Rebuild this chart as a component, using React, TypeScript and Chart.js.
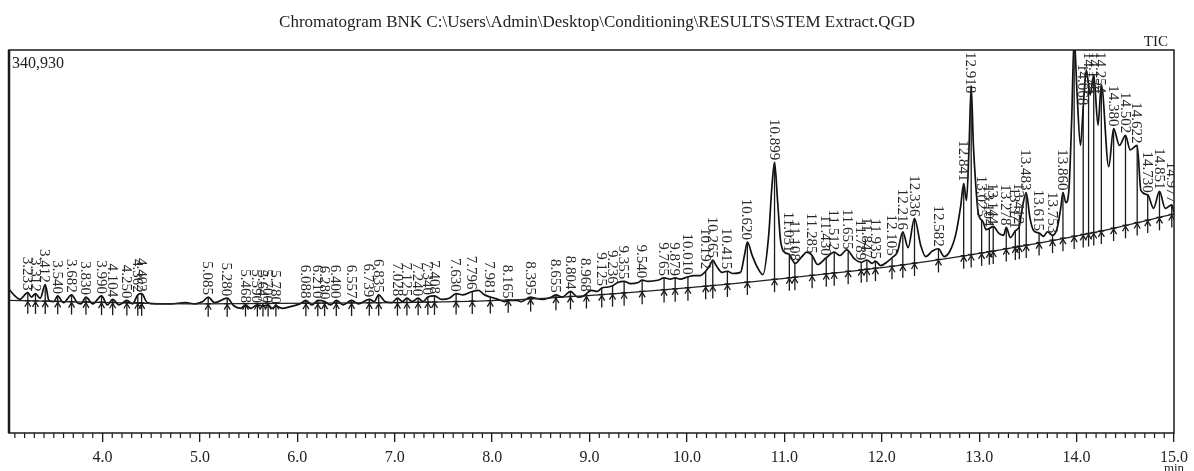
import React, { useEffect, useRef } from 'react';
import { Chart, registerables } from 'chart.js';

Chart.register(...registerables);

const TITLE = 'Chromatogram BNK C:\\Users\\Admin\\Desktop\\Conditioning\\RESULTS\\STEM Extract.QGD';
const TRACE_NAME = 'TIC';
const X_UNIT = 'min';
const Y_MAX = 340930;
const X_MIN = 3.04;
const X_MAX = 15.0;

const majorTicks = [4, 5, 6, 7, 8, 9, 10, 11, 12, 13, 14, 15];

// TIC trace (minutes, thousands of counts)
const traceTimes = [
  3.04, 3.10, 3.15, 3.233, 3.27, 3.312, 3.36, 3.412, 3.45, 3.50, 3.540, 3.60, 3.682, 3.74, 3.78, 3.830, 3.90, 3.990,
  4.05, 4.104, 4.17, 4.250, 4.31, 4.362, 4.402, 4.46, 4.55, 4.70, 4.85, 4.95, 5.03, 5.085, 5.15, 5.280, 5.35, 5.42,
  5.468, 5.52, 5.590, 5.647, 5.700, 5.74, 5.780, 5.85, 5.95, 6.03, 6.088, 6.15, 6.210, 6.280, 6.34, 6.400, 6.47,
  6.557, 6.63, 6.739, 6.79, 6.835, 6.90, 6.97, 7.028, 7.08, 7.125, 7.18, 7.240, 7.29, 7.340, 7.408, 7.48, 7.56,
  7.630, 7.70, 7.796, 7.86, 7.92, 7.981, 8.06, 8.13, 8.165, 8.25, 8.30, 8.395, 8.44, 8.52, 8.61, 8.655, 8.72, 8.804,
  8.88, 8.94, 8.968, 9.02, 9.08, 9.125, 9.19, 9.236, 9.29, 9.355, 9.42, 9.50, 9.540, 9.60, 9.70, 9.765, 9.83, 9.879,
  9.93, 10.010, 10.07, 10.13, 10.192, 10.24, 10.265, 10.30, 10.36, 10.415, 10.47, 10.55, 10.59, 10.620, 10.67, 10.72,
  10.78, 10.84, 10.87, 10.899, 10.93, 10.96, 11.00, 11.051, 11.11, 11.18, 11.23, 11.285, 11.34, 11.43, 11.512, 11.57,
  11.64, 11.72, 11.789, 11.847, 11.90, 11.935, 11.99, 12.05, 12.105, 12.16, 12.216, 12.27, 12.336, 12.40, 12.45, 12.52,
  12.582, 12.64, 12.70, 12.76, 12.81, 12.841, 12.87, 12.895, 12.918, 12.94, 12.96, 12.99, 13.04, 13.07, 13.104, 13.144,
  13.20, 13.25, 13.278, 13.32, 13.371, 13.412, 13.44, 13.483, 13.52, 13.56, 13.615, 13.66, 13.70, 13.753, 13.80, 13.84,
  13.860, 13.89, 13.92, 13.95, 13.975, 14.005, 14.04, 14.068, 14.10, 14.123, 14.14, 14.176, 14.22, 14.254, 14.33,
  14.380, 14.44, 14.502, 14.55, 14.622, 14.66, 14.730, 14.79, 14.851, 14.91, 14.977, 15.00,
];
const traceValuesK = [
  128, 122, 119, 125, 121, 124, 120, 132, 118, 117, 122, 116, 123, 116, 115, 121, 115, 122,
  114, 119, 114, 118, 115, 123, 124, 116, 115, 115, 116, 115, 117, 121, 116, 120, 113, 111,
  114, 111, 114, 113, 114, 111, 113, 111, 113, 115, 118, 114, 118, 117, 114, 118, 114,
  118, 115, 119, 117, 123, 117, 116, 120, 117, 120, 117, 120, 117, 121, 122, 119, 120,
  124, 123, 126, 127, 123, 121, 119, 117, 118, 118, 117, 121, 120, 119, 121, 123, 121, 126,
  121, 122, 124, 127, 126, 129, 130, 131, 134, 135, 133, 134, 136, 135, 136, 138, 137, 138,
  137, 139, 140, 140, 144, 150, 154, 149, 143, 144, 142, 143, 158, 170, 158, 148,
  141, 177, 217, 241, 207, 172, 161, 159, 151, 157, 161, 158, 150, 156, 161, 158,
  163, 155, 152, 154, 151, 153, 149, 152, 156, 161, 179, 165, 191, 167, 157, 162,
  164, 157, 162, 177, 202, 222, 207, 252, 309, 257, 227, 196, 188, 181, 182, 184,
  178, 176, 183, 174, 180, 184, 199, 214, 192, 180, 178, 175, 179, 176, 182, 202,
  214, 205, 215, 280, 352, 302, 256, 290, 323, 310, 301, 319, 274, 310, 237,
  271, 256, 265, 252, 256, 216, 212, 200, 215, 200, 203, 196,
];

const baselineTimes = [3.04, 4.99, 7.04, 8.06, 9.09, 10.11, 11.14, 12.16, 13.08, 14.21, 15.0];
const baselineValuesK = [118, 115, 116, 118, 123, 130, 139, 149, 161, 179, 195];

const peakTimes = [
  3.233, 3.312, 3.412, 3.540, 3.682, 3.830, 3.990, 4.104, 4.250, 4.362, 4.402,
  5.085, 5.280, 5.468, 5.590, 5.647, 5.700, 5.780,
  6.088, 6.210, 6.280, 6.400, 6.557, 6.739, 6.835, 7.028, 7.125, 7.240, 7.340, 7.408,
  7.630, 7.796, 7.981, 8.165, 8.395, 8.655, 8.804, 8.968, 9.125, 9.236, 9.355, 9.540,
  9.765, 9.879, 10.010, 10.192, 10.265, 10.415, 10.620, 10.899,
  11.051, 11.108, 11.285, 11.430, 11.512, 11.655, 11.789, 11.847, 11.935, 12.105, 12.216, 12.336, 12.582,
  12.841, 12.918, 13.025, 13.104, 13.144, 13.278, 13.371, 13.412, 13.483, 13.615, 13.753, 13.860,
  14.068, 14.123, 14.176, 14.254, 14.380, 14.502, 14.622, 14.730, 14.851, 14.977,
];
const unlabeledPeakTimes = [13.975];

const SERIF = '"Liberation Serif", "DejaVu Serif", serif';

function interp(xs: number[], ys: number[], t: number): number {
  if (t <= xs[0]) return ys[0];
  for (let i = 1; i < xs.length; i++) {
    if (t <= xs[i]) {
      const f = (t - xs[i - 1]) / (xs[i] - xs[i - 1]);
      return ys[i - 1] + f * (ys[i] - ys[i - 1]);
    }
  }
  return ys[ys.length - 1];
}

const chromPlugin = {
  id: 'chromDecor',
  afterDatasetsDraw(chart: any) {
    const { ctx, chartArea, scales } = chart;
    const xs = scales.x;
    const ys = scales.y;
    ctx.save();
    ctx.beginPath();
    ctx.rect(chartArea.left, chartArea.top, chartArea.right - chartArea.left, chartArea.bottom - chartArea.top);
    ctx.clip();
    const allPeaks = peakTimes.map((t) => ({ t, label: t.toFixed(3) }))
      .concat(unlabeledPeakTimes.map((t) => ({ t, label: '' })));
    ctx.strokeStyle = '#1a1a1a';
    ctx.lineWidth = 1.3;
    for (const p of allPeaks) {
      const px = xs.getPixelForValue(p.t);
      const v = Math.min(interp(traceTimes, traceValuesK, p.t) * 1000, Y_MAX);
      const yTop = ys.getPixelForValue(v);
      const yBase = ys.getPixelForValue(interp(baselineTimes, baselineValuesK, p.t) * 1000);
      ctx.beginPath();
      ctx.moveTo(px, yTop);
      ctx.lineTo(px, yBase + 13);
      ctx.stroke();
      ctx.beginPath();
      ctx.moveTo(px - 3, yBase + 6);
      ctx.lineTo(px, yBase + 1);
      ctx.lineTo(px + 3, yBase + 6);
      ctx.stroke();
      ctx.beginPath();
      ctx.moveTo(px - 3, yBase);
      ctx.lineTo(px + 3, yBase);
      ctx.stroke();
    }
    ctx.font = `15px ${SERIF}`;
    ctx.fillStyle = '#2a2a2a';
    for (const p of allPeaks) {
      if (!p.label) continue;
      const px = xs.getPixelForValue(p.t);
      const v = Math.min(interp(traceTimes, traceValuesK, p.t) * 1000, Y_MAX);
      const yTop = ys.getPixelForValue(v);
      const w = ctx.measureText(p.label).width;
      let bottom = yTop - 2;
      if (bottom - w < chartArea.top + 2) bottom = chartArea.top + 2 + w;
      ctx.save();
      ctx.translate(px - 1, bottom);
      ctx.rotate(Math.PI / 2);
      ctx.textAlign = 'right';
      ctx.textBaseline = 'middle';
      ctx.fillText(p.label, 0, 0);
      ctx.restore();
    }
    ctx.restore();
  },
  afterDraw(chart: any) {
    const { ctx, chartArea, scales, width } = chart;
    const xs = scales.x;
    ctx.save();
    ctx.strokeStyle = '#1a1a1a';
    ctx.lineWidth = 1.5;
    ctx.strokeRect(chartArea.left, chartArea.top, chartArea.right - chartArea.left, chartArea.bottom - chartArea.top);
    ctx.lineWidth = 2.5;
    ctx.beginPath();
    ctx.moveTo(chartArea.left, chartArea.top);
    ctx.lineTo(chartArea.left, chartArea.bottom);
    ctx.stroke();
    // minor ticks every 0.1 min
    ctx.lineWidth = 1.2;
    const n0 = Math.ceil(X_MIN * 10);
    const n1 = Math.floor(X_MAX * 10);
    for (let n = n0; n <= n1; n++) {
      if (n % 10 === 0) continue;
      const px = xs.getPixelForValue(n / 10);
      ctx.beginPath();
      ctx.moveTo(px, chartArea.bottom);
      ctx.lineTo(px, chartArea.bottom + 5);
      ctx.stroke();
    }
    ctx.fillStyle = '#222';
    ctx.font = `17px ${SERIF}`;
    ctx.textAlign = 'center';
    ctx.textBaseline = 'alphabetic';
    ctx.fillText(TITLE, width / 2, 27);
    ctx.font = `16px ${SERIF}`;
    ctx.textAlign = 'left';
    ctx.fillText(Y_MAX.toLocaleString('en-US'), chartArea.left + 3, 68);
    ctx.font = `15px ${SERIF}`;
    ctx.textAlign = 'right';
    ctx.fillText(TRACE_NAME, chartArea.right - 6, 46);
    ctx.font = `13px ${SERIF}`;
    ctx.textAlign = 'center';
    ctx.fillText(X_UNIT, chartArea.right, 472);
    ctx.restore();
  },
};

export default function App() {
  const ref = useRef<HTMLCanvasElement | null>(null);
  useEffect(() => {
    if (!ref.current) return;
    const chart = new Chart(ref.current, {
      type: 'line',
      data: {
        datasets: [
          {
            label: 'baseline',
            data: baselineTimes.map((t, i) => ({ x: t, y: baselineValuesK[i] * 1000 })),
            borderColor: '#222',
            borderWidth: 1.3,
            pointRadius: 0,
            tension: 0.3,
            cubicInterpolationMode: 'monotone',
          },
          {
            label: TRACE_NAME,
            data: traceTimes.map((t, i) => ({ x: t, y: traceValuesK[i] * 1000 })),
            borderColor: '#111',
            borderWidth: 1.7,
            pointRadius: 0,
            cubicInterpolationMode: 'monotone',
          },
        ],
      },
      options: {
        animation: false,
        responsive: false,
        events: [],
        layout: { padding: { left: 9, top: 50, right: 17, bottom: 0 } },
        plugins: { legend: { display: false }, tooltip: { enabled: false }, title: { display: false } },
        scales: {
          x: {
            type: 'linear',
            min: X_MIN,
            max: X_MAX,
            border: { display: false },
            grid: { drawOnChartArea: false, drawTicks: true, tickLength: 9, color: '#1a1a1a', lineWidth: 1.3 },
            afterBuildTicks: (s: any) => {
              s.ticks = majorTicks.map((v) => ({ value: v }));
            },
            afterFit: (s: any) => {
              s.height = 38;
            },
            ticks: {
              autoSkip: false,
              maxRotation: 0,
              padding: 6,
              color: '#222',
              font: { family: SERIF, size: 16 },
              callback: (v: any) => Number(v).toFixed(1),
            },
          },
          y: {
            type: 'linear',
            display: false,
            min: 0,
            max: Y_MAX,
          },
        },
      },
      plugins: [chromPlugin],
    } as any);
    return () => chart.destroy();
  }, []);
  return (
    <div style={{ position: 'fixed', left: 0, top: 0, width: 1194, height: 471, background: '#fff' }}>
      <canvas ref={ref} width={1194} height={471} style={{ display: 'block' }} />
    </div>
  );
}
